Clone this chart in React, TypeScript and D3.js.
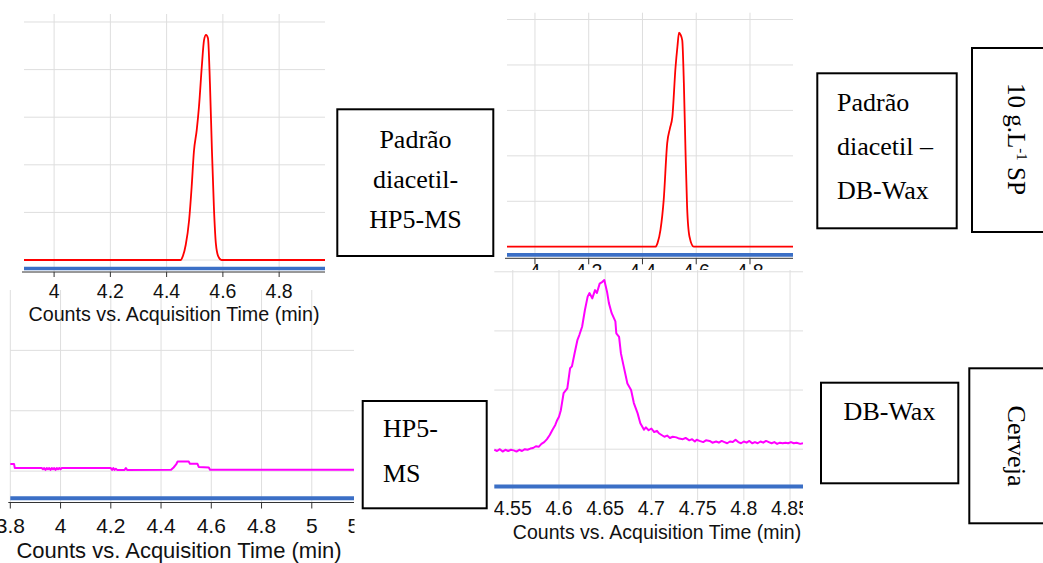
import React from 'react';
import * as d3 from 'd3';

// ---------- DATA ----------
// Panel A: standard diacetyl on HP5-MS (red trace), time in min, counts in grid units
const hp5StdTime = [3.893, 4.45, 4.457, 4.468, 4.48, 4.489, 4.497, 4.507, 4.515, 4.525, 4.533, 4.54, 4.547, 4.554, 4.561, 4.568, 4.575, 4.584, 4.595, 4.963];
const hp5StdCounts = [0, 0, 0.07, 0.32, 0.84, 1.54, 2.28, 2.73, 3.22, 4.06, 4.62, 4.73, 4.66, 3.71, 2.31, 1.12, 0.35, 0.07, 0, 0];
const hp5StdBlue = -0.18;

// Panel B: standard diacetyl on DB-Wax (red trace)
const waxStdTime = [3.896, 4.448, 4.456, 4.467, 4.479, 4.492, 4.502, 4.511, 4.523, 4.53, 4.536, 4.542, 4.548, 4.554, 4.56, 4.566, 4.575, 4.591, 4.96];
const waxStdCounts = [0, 0, 0.08, 0.37, 1.03, 2.28, 2.6, 2.85, 3.95, 4.4, 4.71, 4.66, 4.54, 3.6, 2.13, 0.88, 0.22, 0, 0];
const waxStdBlue = -0.18;

// Panel C: beer on HP5-MS (magenta trace)
const hp5BeerTime = [3.8, 3.815, 3.818, 3.925, 3.93, 3.935, 3.94, 3.945, 3.95, 3.955, 3.96, 3.965, 3.97, 3.975, 3.98, 3.985, 3.99, 3.995, 4.0, 4.005, 4.2, 4.205, 4.21, 4.215, 4.22, 4.225, 4.255, 4.26, 4.265, 4.44, 4.45, 4.46, 4.466, 4.51, 4.515, 4.545, 4.55, 4.59, 4.595, 5.168];
const hp5BeerCounts = [0.116, 0.116, 0.05, 0.05, 0.03, 0.05, 0.02, 0.05, 0.03, 0.05, 0.02, 0.05, 0.03, 0.05, 0.02, 0.05, 0.03, 0.05, 0.03, 0.05, 0.05, 0.02, 0.05, 0.02, 0.04, 0.02, 0.02, 0.05, 0.02, 0.022, 0.06, 0.11, 0.16, 0.16, 0.12, 0.12, 0.07, 0.06, 0.022, 0.022];
const hp5BeerBlue = -0.45;

// Panel D: beer on DB-Wax (magenta trace)
const waxBeerTime = [
  4.53, 4.533, 4.536, 4.539, 4.542, 4.545, 4.548, 4.551, 4.554, 4.557, 4.56, 4.563, 4.566, 4.569, 4.572, 4.575,
  4.578, 4.581, 4.584, 4.587, 4.59, 4.593, 4.596, 4.598, 4.6, 4.602, 4.605, 4.609, 4.612, 4.614, 4.617, 4.62,
  4.622, 4.625, 4.628, 4.631, 4.633, 4.636, 4.639, 4.641, 4.644, 4.647, 4.649, 4.652, 4.654, 4.657, 4.661, 4.662,
  4.665, 4.667, 4.67, 4.674, 4.678, 4.681, 4.685, 4.688, 4.692, 4.694, 4.697, 4.7, 4.703, 4.706, 4.708,
  4.711, 4.714, 4.717, 4.72, 4.723, 4.727, 4.73, 4.734, 4.737, 4.741, 4.744, 4.747, 4.749, 4.752, 4.756, 4.759,
  4.763, 4.766, 4.77, 4.773, 4.776, 4.779, 4.782, 4.785, 4.788, 4.791, 4.794, 4.797, 4.8, 4.803, 4.806, 4.809,
  4.812, 4.815, 4.818, 4.821, 4.824, 4.827, 4.83, 4.833, 4.836, 4.839, 4.842, 4.845, 4.848, 4.851, 4.854, 4.857,
  4.861, 4.864,
];
const waxBeerCounts = [
  -0.01, -0.03, 0.0, -0.04, -0.01, -0.03, -0.01, -0.02, -0.04, -0.01, -0.03, 0.0, -0.01, 0.01, 0.02, 0.05,
  0.04, 0.09, 0.12, 0.17, 0.24, 0.33, 0.41, 0.49, 0.55, 0.66, 0.95, 1.03, 1.37, 1.4, 1.63, 1.85,
  1.93, 2.07, 2.35, 2.58, 2.64, 2.55, 2.69, 2.64, 2.8, 2.83, 2.86, 2.66, 2.47, 2.3, 2.16, 1.96,
  1.9, 1.62, 1.4, 1.11, 1.0, 0.78, 0.61, 0.44, 0.33, 0.37, 0.32, 0.35, 0.29, 0.31, 0.27,
  0.24, 0.21, 0.23, 0.19, 0.21, 0.2, 0.18, 0.17, 0.19, 0.15, 0.17, 0.13, 0.16, 0.14, 0.12, 0.15,
  0.14, 0.11, 0.13, 0.11, 0.14, 0.12, 0.1, 0.13, 0.12, 0.16, 0.12, 0.1, 0.13, 0.11, 0.14, 0.1,
  0.12, 0.1, 0.13, 0.11, 0.14, 0.12, 0.1, 0.12, 0.09, 0.11, 0.1, 0.11, 0.1, 0.12, 0.1, 0.11,
  0.09, 0.1,
];
const waxBeerBlue = -0.63;

// Axis ticks
const hp5StdTicks = [4, 4.2, 4.4, 4.6, 4.8];
const waxStdTicks = [4, 4.2, 4.4, 4.6, 4.8];
const hp5BeerTicks = [3.8, 4, 4.2, 4.4, 4.6, 4.8, 5, 5.2];
const waxBeerTicks = [4.55, 4.6, 4.65, 4.7, 4.75, 4.8, 4.85];
const stdGrid = [0, 1, 2, 3, 4, 5];
const hp5BeerGrid = [0, 1, 2];
const waxBeerGrid = [0, 1, 2, 3];

const axisTitle = 'Counts vs. Acquisition Time (min)';

// Label boxes
const labelStdHp5 = ['Padrão', 'diacetil-', 'HP5-MS'];
const labelStdWax = ['Padrão', 'diacetil –', 'DB-Wax'];
const labelBeerHp5 = ['HP5-', 'MS'];
const labelBeerWax = ['DB-Wax'];
const labelConc = { main: '10 g.L', sup: '-1', tail: ' SP' };
const labelBeer = 'Cerveja';

// ---------- STYLES / LAYOUT ----------
const SANS = '"Liberation Sans", Arial, Helvetica, sans-serif';
const SERIF = '"Liberation Serif", "Times New Roman", Times, serif';
const RED = '#ff0000';
const MAGENTA = '#ff00ff';
const BLUE = '#3b6fc6';
const GRID = '#dedede';
const fmt = d3.format('~g');

type Cfg = {
  id: string;
  x0: number; x1: number; yTop: number; yAxis: number;
  xDomain: [number, number]; yDomain: [number, number];
  gridBottom: number;
  tickFont: number; tickBaseline: number; tickLen: number; showAxis: boolean;
  title?: { x: number; y: number; size: number };
  clip?: { x: number; y: number; w: number; h: number };
  bg?: { x: number; y: number; w: number; h: number };
  color: string; curve: any; lineWidth: number; blueWidth: number;
};

function Panel(props: { cfg: Cfg; times: number[]; counts: number[]; blue: number; ticks: number[]; grid: number[] }) {
  const { cfg, times, counts, blue, ticks, grid } = props;
  const x = d3.scaleLinear().domain(cfg.xDomain).range([cfg.x0, cfg.x1]);
  const y = d3.scaleLinear().domain(cfg.yDomain).range([cfg.yAxis, cfg.yTop]);
  const pts: [number, number][] = times.map((t, i) => [t, counts[i]]);
  const line = d3.line<[number, number]>().x((d) => x(d[0])).y((d) => y(d[1])).curve(cfg.curve);
  const clipId = `clip-${cfg.id}`;
  return (
    <g>
      {cfg.clip && (
        <defs>
          <clipPath id={clipId}>
            <rect x={cfg.clip.x} y={cfg.clip.y} width={cfg.clip.w} height={cfg.clip.h} />
          </clipPath>
        </defs>
      )}
      {cfg.bg && <rect x={cfg.bg.x} y={cfg.bg.y} width={cfg.bg.w} height={cfg.bg.h} fill="#fff" />}
      <g clipPath={cfg.clip ? `url(#${clipId})` : undefined}>
        {ticks.map((t) => (
          <line key={`v${t}`} x1={x(t)} x2={x(t)} y1={cfg.yTop} y2={cfg.gridBottom} stroke={GRID} strokeWidth={1} />
        ))}
        {grid.map((g) => (
          <line key={`h${g}`} x1={cfg.x0} x2={cfg.x1} y1={y(g)} y2={y(g)} stroke={GRID} strokeWidth={1} />
        ))}
        <line x1={cfg.x0} x2={cfg.x1} y1={y(blue)} y2={y(blue)} stroke={BLUE} strokeWidth={cfg.blueWidth} />
        {cfg.showAxis && <line x1={cfg.x0 - 2} x2={cfg.x1} y1={cfg.yAxis} y2={cfg.yAxis} stroke="#333" strokeWidth={1} />}
        {cfg.showAxis &&
          ticks.map((t) => (
            <line key={`t${t}`} x1={x(t)} x2={x(t)} y1={cfg.yAxis} y2={cfg.yAxis + cfg.tickLen} stroke="#333" strokeWidth={1} />
          ))}
        <path d={line(pts) || ''} fill="none" stroke={cfg.color} strokeWidth={cfg.lineWidth} strokeLinejoin="round" />
        {ticks.map((t) => (
          <text key={`l${t}`} x={x(t)} y={cfg.tickBaseline} textAnchor="middle" fontFamily={SANS} fontSize={cfg.tickFont} fill="#111">
            {fmt(t)}
          </text>
        ))}
        {cfg.title && (
          <text x={cfg.title.x} y={cfg.title.y} textAnchor="middle" fontFamily={SANS} fontSize={cfg.title.size} fill="#111">
            {axisTitle}
          </text>
        )}
      </g>
    </g>
  );
}

const cfgStdHp5: Cfg = {
  id: 'a', x0: 24, x1: 325, yTop: 14, yAxis: 272, xDomain: [3.893, 4.963], yDomain: [-0.252, 5.168],
  gridBottom: 272, tickFont: 19.5, tickBaseline: 297.5, tickLen: 5, showAxis: true,
  title: { x: 174, y: 321, size: 19.7 }, color: RED, curve: d3.curveMonotoneX, lineWidth: 1.8, blueWidth: 3.6,
};
const cfgStdWax: Cfg = {
  id: 'b', x0: 507, x1: 793, yTop: 12.7, yAxis: 258.3, xDomain: [3.896, 4.96], yDomain: [-0.255, 5.15],
  gridBottom: 258.3, tickFont: 19.5, tickBaseline: 278, tickLen: 6, showAxis: true,
  color: RED, curve: d3.curveMonotoneX, lineWidth: 1.8, blueWidth: 3.6,
};
const cfgBeerHp5: Cfg = {
  id: 'c', x0: 10.3, x1: 354, yTop: 290, yAxis: 502.5, xDomain: [3.8, 5.168], yDomain: [-0.52, 3.0],
  gridBottom: 502.5, tickFont: 21, tickBaseline: 533, tickLen: 6, showAxis: true,
  title: { x: 179, y: 558, size: 22 }, clip: { x: -30, y: 284, w: 384.5, h: 290 },
  color: MAGENTA, curve: d3.curveLinear, lineWidth: 2, blueWidth: 4,
};
const cfgBeerWax: Cfg = {
  id: 'd', x0: 494.3, x1: 803, yTop: 270, yAxis: 490, xDomain: [4.53, 4.864], yDomain: [-0.69, 3.03],
  gridBottom: 500, tickFont: 19.5, tickBaseline: 514.5, tickLen: 0, showAxis: false,
  title: { x: 657, y: 538.5, size: 19.5 }, clip: { x: 494, y: 270, w: 309, h: 293 },
  bg: { x: 494, y: 270, w: 309, h: 293 },
  color: MAGENTA, curve: d3.curveLinear, lineWidth: 2, blueWidth: 4,
};

function Box(props: { x: number; y: number; w: number; h: number }) {
  return <rect x={props.x} y={props.y} width={props.w} height={props.h} fill="#fff" stroke="#000" strokeWidth={2} />;
}

export default function App() {
  return (
    <svg width={1043} height={563} style={{ position: 'absolute', left: 0, top: 0, background: '#fff' }}>
      <rect x={0} y={0} width={1043} height={563} fill="#fff" />
      <Panel cfg={cfgBeerHp5} times={hp5BeerTime} counts={hp5BeerCounts} blue={hp5BeerBlue} ticks={hp5BeerTicks} grid={hp5BeerGrid} />
      <Panel cfg={cfgStdHp5} times={hp5StdTime} counts={hp5StdCounts} blue={hp5StdBlue} ticks={hp5StdTicks} grid={stdGrid} />
      <Panel cfg={cfgStdWax} times={waxStdTime} counts={waxStdCounts} blue={waxStdBlue} ticks={waxStdTicks} grid={stdGrid} />
      <Panel cfg={cfgBeerWax} times={waxBeerTime} counts={waxBeerCounts} blue={waxBeerBlue} ticks={waxBeerTicks} grid={waxBeerGrid} />

      {/* Box: Padrão diacetil- HP5-MS */}
      <Box x={337.3} y={109.3} w={156} h={146.7} />
      {labelStdHp5.map((s, i) => (
        <text key={`a${i}`} x={415.5} y={148.3 + i * 40} textAnchor="middle" fontFamily={SERIF} fontSize={26} fill="#000">{s}</text>
      ))}

      {/* Box: Padrão diacetil – DB-Wax */}
      <Box x={817.3} y={73.3} w={139.4} h={155} />
      {labelStdWax.map((s, i) => (
        <text key={`b${i}`} x={837} y={111 + i * 44} fontFamily={SERIF} fontSize={26} fill="#000">{s}</text>
      ))}

      {/* Box: 10 g.L-1 SP (rotated) */}
      <Box x={972} y={48} w={100} h={184} />
      <text transform="translate(1008,139) rotate(90)" textAnchor="middle" fontFamily={SERIF} fontSize={25} fill="#000">
        {labelConc.main}
        <tspan dy={-9} fontSize={15}>{labelConc.sup}</tspan>
        <tspan dy={9}>{labelConc.tail}</tspan>
      </text>

      {/* Box: HP5- MS */}
      <Box x={362.7} y={401} w={124} h={107.3} />
      {labelBeerHp5.map((s, i) => (
        <text key={`c${i}`} x={383} y={437 + i * 45} fontFamily={SERIF} fontSize={26} fill="#000">{s}</text>
      ))}

      {/* Box: DB-Wax */}
      <Box x={821} y={382.7} w={137.3} h={100.6} />
      {labelBeerWax.map((s, i) => (
        <text key={`d${i}`} x={889.5} y={420 + i * 44} textAnchor="middle" fontFamily={SERIF} fontSize={26} fill="#000">{s}</text>
      ))}

      {/* Box: Cerveja (rotated) */}
      <Box x={969.3} y={368.3} w={100} h={155} />
      <text transform="translate(1008,446) rotate(90)" textAnchor="middle" fontFamily={SERIF} fontSize={26} fill="#000">
        {labelBeer}
      </text>
    </svg>
  );
}
